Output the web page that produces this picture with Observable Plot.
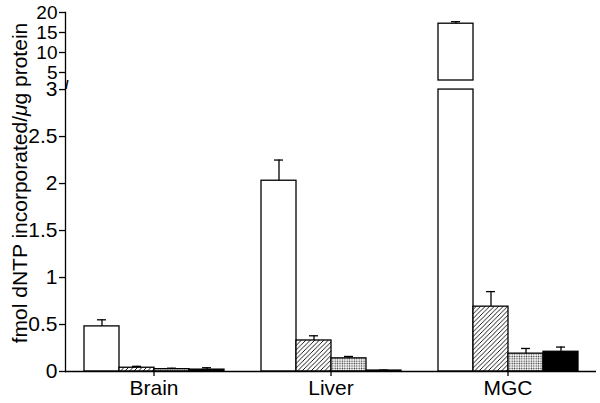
<!DOCTYPE html>
<html>
<head>
<meta charset="utf-8">
<script src="https://cdn.jsdelivr.net/npm/d3@7"></script>
<script src="https://cdn.jsdelivr.net/npm/@observablehq/plot@0.6"></script>
<style>
  html, body { margin: 0; padding: 0; background: white; }
  #chart { position: relative; width: 600px; height: 403px; }
  #chart svg { position: absolute; left: 0; top: 0; }
</style>
</head>
<body>
<div id="chart"></div>
<script>
// ---- data ----
const categories = ["Brain", "Liver", "MGC"];
const series = ["open", "hatched", "stippled", "solid"];
const brainValues = [0.48, 0.04, 0.025, 0.02];
const brainErrors = [0.07, 0.015, 0.01, 0.02];
const liverValues = [2.03, 0.33, 0.14, 0.01];
const liverErrors = [0.22, 0.05, 0.02, 0.005];
const mgcValues = [17.2, 0.69, 0.19, 0.21];
const mgcErrors = [0.5, 0.16, 0.055, 0.05];
const lowerTicks = [0, 0.5, 1, 1.5, 2, 2.5, 3];
const upperTicks = [5, 10, 15, 20];
const yLabel = "fmol dNTP incorporated/μg protein";
const breakValue = 3;   // axis break: lower panel 0–3, upper panel 3–20

const valueSets = [brainValues, liverValues, mgcValues];
const errorSets = [brainErrors, liverErrors, mgcErrors];
const rows = [];
categories.forEach((c, i) => series.forEach((s, j) => rows.push({category: c, series: s, value: valueSets[i][j], se: errorSets[i][j]})));
const lowerRows = rows.filter(r => r.value <= breakValue);
const upperRows = rows.filter(r => r.value > breakValue);

const sw = 1.3;
const fs = 21;
const font = "'Liberation Sans', Arial, Helvetica, sans-serif";
const common = {
  width: 600,
  height: 403,
  marginLeft: 64,
  marginRight: 3,
  fx: {domain: categories, padding: 0, label: null},
  x: {domain: series, paddingInner: 0, paddingOuter: 0.47, axis: null},
  color: {domain: series, range: ["white", "url(#hatch)", "url(#dots)", "black"]}
};

// lower panel (0 – 3), whose frame spans the full axis height
const lower = Plot.plot({
  ...common,
  marginTop: 12,
  marginBottom: 32,
  style: {fontFamily: font, fontSize: fs + "px", color: "black", background: "white"},
  y: {domain: [0, 3.82]},
  marks: [
    Plot.barY(rows, {fx: "category", x: "series", y1: 0, y2: d => Math.min(d.value, breakValue), fill: "series", stroke: "black", strokeWidth: sw}),
    Plot.ruleX(lowerRows, {fx: "category", x: "series", y1: "value", y2: d => d.value + d.se, stroke: "black", strokeWidth: sw}),
    Plot.tickY(lowerRows, {fx: "category", x: "series", y: d => d.value + d.se, insetLeft: 13, insetRight: 13, stroke: "black", strokeWidth: sw}),
    Plot.ruleY([0], {stroke: "black", strokeWidth: sw}),
    Plot.frame({anchor: "left", facet: "super", stroke: "black", strokeWidth: sw}),
    Plot.axisY({ticks: lowerTicks, tickFormat: d => String(d), tickSize: 6, tickPadding: 2, strokeWidth: sw, fontSize: fs,
      label: yLabel, labelAnchor: "center", labelOffset: 50, labelArrow: false}),
    Plot.axisFx({anchor: "bottom", tickSize: 5, tickPadding: 4, label: null, fontSize: fs, strokeWidth: sw})
  ]
});

// upper panel (3 – 20), transparent overlay
const upper = Plot.plot({
  ...common,
  marginTop: 12,
  marginBottom: 403 - 80,
  style: {fontFamily: font, fontSize: fs + "px", color: "black", background: "transparent", overflow: "visible"},
  y: {domain: [breakValue, 20]},
  fx: {...common.fx, axis: null},
  marks: [
    Plot.ruleY(rows, {fx: "category", y: breakValue, stroke: "none"}),
    Plot.barY(upperRows, {fx: "category", x: "series", y1: breakValue, y2: "value", fill: "series", stroke: "black", strokeWidth: sw}),
    Plot.ruleX(upperRows, {fx: "category", x: "series", y1: "value", y2: d => d.value + d.se, stroke: "black", strokeWidth: sw}),
    Plot.tickY(upperRows, {fx: "category", x: "series", y: d => d.value + d.se, insetLeft: 13, insetRight: 13, stroke: "black", strokeWidth: sw}),
    Plot.axisY({ticks: upperTicks, tickFormat: d => String(d), tickSize: 6, tickPadding: 2, strokeWidth: sw, fontSize: 19, label: null}),
    Plot.axisY({ticks: [breakValue], tickFormat: () => "/", tickSize: 0, tickPadding: -3, fontSize: 13, fontWeight: "bold", dy: 4, label: null})
  ]
});

const ns = "http://www.w3.org/2000/svg";
const defs = document.createElementNS(ns, "defs");
defs.innerHTML = `
  <pattern id="hatch" patternUnits="userSpaceOnUse" width="4.5" height="4.5">
    <rect width="4.5" height="4.5" fill="white"/>
    <path d="M-1,1 l2,-2 M0,4.5 l4.5,-4.5 M3.5,5.5 l2,-2" stroke="black" stroke-width="0.9"/>
  </pattern>
  <pattern id="dots" patternUnits="userSpaceOnUse" width="2.4" height="2.4">
    <rect width="2.4" height="2.4" fill="white"/>
    <circle cx="1.2" cy="1.2" r="0.75" fill="#333"/>
  </pattern>`;
lower.insertBefore(defs, lower.firstChild);

// italic mu in the axis label, and nudge the label to the reference position
lower.querySelectorAll("text").forEach(t => {
  if (t.textContent === yLabel) {
    const [a, b] = yLabel.split("μ");
    t.textContent = "";
    const t1 = document.createElementNS(ns, "tspan"); t1.textContent = a;
    const t2 = document.createElementNS(ns, "tspan"); t2.textContent = "μ"; t2.setAttribute("font-style", "italic");
    const t3 = document.createElementNS(ns, "tspan"); t3.textContent = b;
    t.append(t1, t2, t3);
    const g = t.parentNode;
    g.setAttribute("transform", "translate(-3,-9) " + (g.getAttribute("transform") || ""));
  }
});
const chart = document.getElementById("chart");
chart.appendChild(lower);
chart.appendChild(upper);
</script>
</body>
</html>
